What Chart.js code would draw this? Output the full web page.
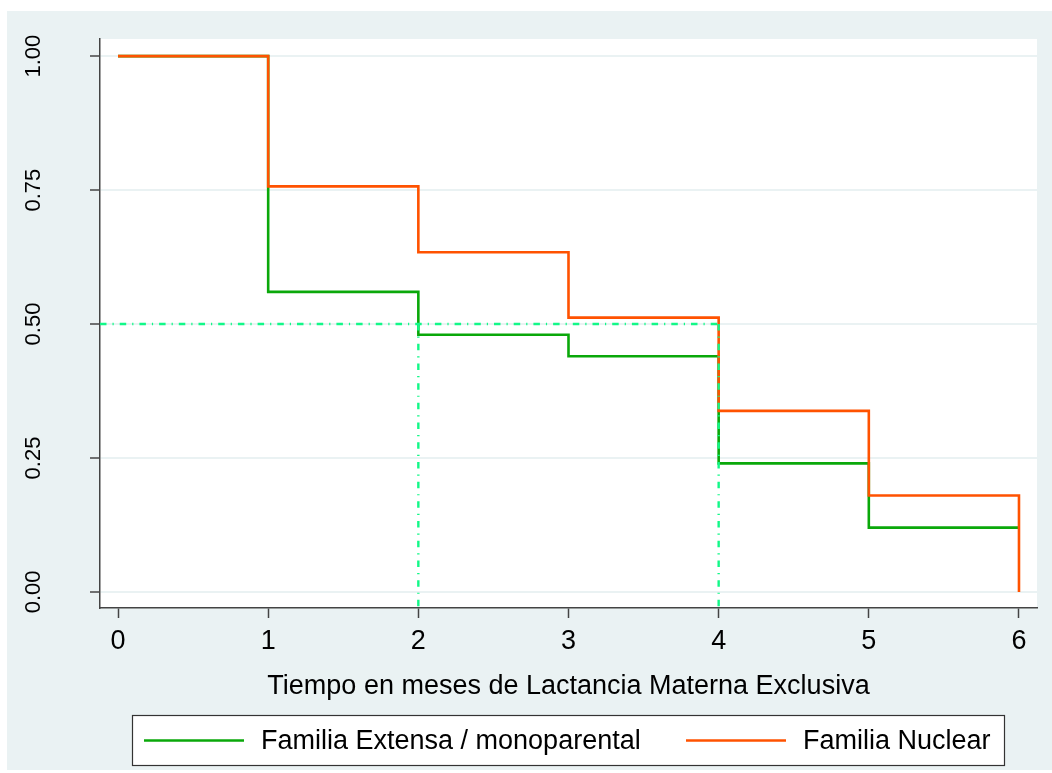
<!DOCTYPE html>
<html>
<head>
<meta charset="utf-8">
<script src="https://cdn.jsdelivr.net/npm/chart.js@4/dist/chart.umd.min.js"></script>
<style>
  html, body { margin: 0; padding: 0; background: #ffffff; }
  canvas { display: block; }
</style>
</head>
<body>
<canvas id="km" width="1052" height="773"></canvas>
<script>
// Kaplan-Meier survival estimates of exclusive breastfeeding by family type
const months = [0, 1, 2, 3, 4, 5, 6];
const survExtensa = [1.00, 0.56, 0.48, 0.44, 0.24, 0.12, 0.12];
const survNuclear = [1.00, 0.757, 0.634, 0.512, 0.338, 0.18, 0.00];
const groupNames = ['Familia Extensa / monoparental', 'Familia Nuclear'];
const xTicks = [0, 1, 2, 3, 4, 5, 6];
const yTicks = [0, 0.25, 0.50, 0.75, 1.00];
const xTitle = 'Tiempo en meses de Lactancia Materna Exclusiva';

const X_MIN = -0.12, X_MAX = 6.12;
const Y_MIN = -0.03, Y_MAX = 1.032;

const GREEN = '#0AA80A';
const ORANGE = '#FF5200';
const MEDIAN_COLOR = '#12F888';
const PANEL = '#EAF2F3';
const AXIS = '#444444';
const FONT = '"Liberation Sans", Arial, sans-serif';

// median survival time: first time the curve reaches 0.5 or below
function medianTime(times, surv) {
  for (let i = 0; i < surv.length; i++) if (surv[i] <= 0.5) return times[i];
  return null;
}
const medians = [medianTime(months, survExtensa), medianTime(months, survNuclear)];
const maxMedian = Math.max(...medians);

const toPoints = (xs, ys) => xs.map((x, i) => ({ x: x, y: ys[i] }));
const dashPattern = [6.5, 6, 1.2, 6];

const datasets = [
  {
    label: groupNames[0], data: toPoints(months, survExtensa),
    borderColor: GREEN, borderWidth: 2.6, stepped: 'before', order: 3, isCurve: true
  },
  {
    label: groupNames[1], data: toPoints(months, survNuclear),
    borderColor: ORANGE, borderWidth: 2.6, stepped: 'before', order: 2, isCurve: true
  },
  {
    label: 'mediana', data: [{ x: X_MIN, y: 0.5 }, { x: maxMedian, y: 0.5 }],
    borderColor: MEDIAN_COLOR, borderWidth: 2.4, borderDash: dashPattern, order: 1
  }
];
medians.forEach((m, i) => {
  datasets.push({
    label: 'mediana ' + i, data: [{ x: m, y: 0.5 }, { x: m, y: Y_MIN }],
    borderColor: MEDIAN_COLOR, borderWidth: 2.4, borderDash: dashPattern, order: 1
  });
});
datasets.forEach(d => { d.pointRadius = 0; d.fill = false; d.tension = 0; });

// outer panel and white plot region
const panelPlugin = {
  id: 'panel',
  beforeDraw(chart) {
    const { ctx, chartArea: a } = chart;
    ctx.save();
    ctx.fillStyle = '#ffffff';
    ctx.fillRect(0, 0, chart.width, chart.height);
    ctx.fillStyle = PANEL;
    ctx.fillRect(7, 11, chart.width - 7, 759);
    ctx.fillStyle = '#ffffff';
    ctx.fillRect(a.left, a.top, a.right - a.left, a.bottom - a.top);
    ctx.restore();
  }
};

// boxed legend below the axis title
const legendPlugin = {
  id: 'boxLegend',
  afterDraw(chart) {
    const { ctx } = chart;
    const box = { x: 132.5, y: 715.5, w: 872, h: 50 };
    ctx.save();
    ctx.fillStyle = '#ffffff';
    ctx.fillRect(box.x, box.y, box.w, box.h);
    ctx.strokeStyle = '#333333';
    ctx.lineWidth = 1.2;
    ctx.strokeRect(box.x, box.y, box.w, box.h);
    const cy = box.y + box.h / 2;
    const entries = chart.data.datasets.filter(d => d.isCurve);
    const starts = [144, 686];
    ctx.font = '27px ' + FONT;
    ctx.textBaseline = 'middle';
    ctx.textAlign = 'left';
    entries.forEach((d, i) => {
      const sx = starts[i];
      ctx.strokeStyle = d.borderColor;
      ctx.lineWidth = 2.6;
      ctx.beginPath();
      ctx.moveTo(sx, cy);
      ctx.lineTo(sx + 100, cy);
      ctx.stroke();
      ctx.fillStyle = '#000000';
      ctx.fillText(d.label, sx + 117, cy + 1);
    });
    ctx.restore();
  }
};

new Chart(document.getElementById('km'), {
  type: 'line',
  data: { datasets: datasets },
  plugins: [panelPlugin, legendPlugin],
  options: {
    responsive: false,
    devicePixelRatio: 1,
    animation: false,
    layout: { padding: { left: 7, top: 39, right: 15, bottom: 65 } },
    plugins: { legend: { display: false }, tooltip: { enabled: false } },
    scales: {
      x: {
        type: 'linear', min: X_MIN, max: X_MAX,
        afterBuildTicks: s => { s.ticks = xTicks.map(v => ({ value: v })); },
        afterFit: s => { s.height = 100; s.paddingLeft = 0; s.paddingRight = 0; },
        grid: { drawOnChartArea: false, drawTicks: true, tickLength: 10, tickColor: AXIS, tickWidth: 1.5 },
        border: { display: true, color: AXIS, width: 1.5 },
        ticks: {
          color: '#000000', font: { family: FONT, size: 27 }, padding: 7,
          maxRotation: 0, minRotation: 0,
          callback: v => String(v)
        },
        title: {
          display: true, text: xTitle, color: '#000000',
          font: { family: FONT, size: 27 }, padding: { top: 0, bottom: 5 }
        }
      },
      y: {
        type: 'linear', min: Y_MIN, max: Y_MAX,
        afterBuildTicks: s => { s.ticks = yTicks.map(v => ({ value: v })); },
        afterFit: s => { s.width = 93; s.paddingTop = 0; s.paddingBottom = 0; },
        grid: { color: PANEL, lineWidth: 2, drawTicks: true, tickLength: 10, tickColor: AXIS, tickWidth: 1.5 },
        border: { display: true, color: AXIS, width: 1.5 },
        ticks: {
          color: '#000000', font: { family: FONT, size: 22 }, padding: 35,
          minRotation: 90, maxRotation: 90, crossAlign: 'center',
          callback: v => v.toFixed(2)
        }
      }
    }
  }
});
</script>
</body>
</html>
